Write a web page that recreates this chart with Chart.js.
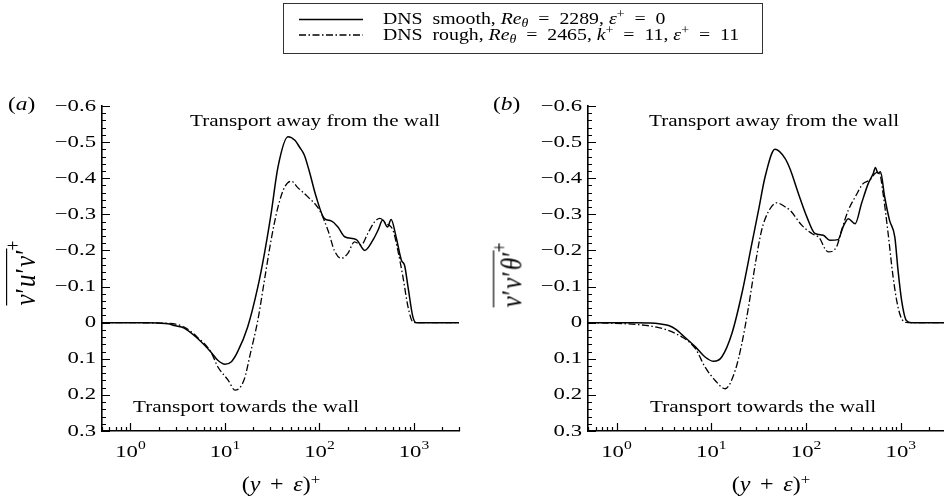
<!DOCTYPE html>
<html>
<head>
<meta charset="utf-8">
<script src="https://cdn.jsdelivr.net/npm/chart.js@4.4.0/dist/chart.umd.min.js"></script>
<style>
body { margin: 0; width: 944px; height: 502px; overflow: hidden; background: #fff; position: relative;
       font-family: "Liberation Serif", "DejaVu Serif", serif; color: #000; }
canvas { position: absolute; top: 0; }
.t { position: absolute; white-space: nowrap; line-height: 1; transform-origin: 0 0; transform: scaleX(1.2); }
.c { position: absolute; white-space: nowrap; line-height: 1; transform-origin: 50% 0; transform: translateX(-50%) scaleX(1.2); }
sup, sub { font-size: 70%; line-height: 0; position: relative; vertical-align: baseline; }
sup { top: -0.5em; }
sub { top: 0.3em; }
.eq { margin: 0 0.5em; }
.op { margin: 0 0.4em; }
.yt { position: absolute; white-space: nowrap; line-height: 1; font-size: 25px;
      transform: translate(-50%, -50%) rotate(-90deg) scale(1, 1.15); }
.ov { border-top: 1.3px solid #000; padding-top: 2px; letter-spacing: 1px; }
.yt sup { top: -0.75em; margin-left: -2px; }
#legend { position: absolute; left: 283px; top: 3px; width: 478px; height: 49px; border: 1px solid #333; }
</style>
</head>
<body>
<canvas id="chartA" width="470" height="502" style="left:0"></canvas>
<canvas id="chartB" width="472" height="502" style="left:486px"></canvas>

<div id="legend">
  <svg width="480" height="50" style="position:absolute;left:0;top:0">
    <line x1="15" y1="15.5" x2="79" y2="15.5" stroke="#000" stroke-width="1.4"/>
    <line x1="15" y1="31" x2="79" y2="31" stroke="#000" stroke-width="1.3" stroke-dasharray="7,2.5,1.5,2.5"/>
  </svg>
  <div class="t" style="left:99px;top:7px;font-size:16.5px">DNS&nbsp; smooth, <i>Re</i><sub><i>θ</i></sub><span class="eq">=</span>2289, <i>ε</i><sup>+</sup><span class="eq">=</span>0</div>
  <div class="t" style="left:99px;top:23px;font-size:16.5px">DNS&nbsp; rough, <i>Re</i><sub><i>θ</i></sub><span class="eq">=</span>2465, <i>k</i><sup>+</sup><span class="eq">=</span>11, <i>ε</i><sup>+</sup><span class="eq">=</span>11</div>
</div>

<div class="t" style="left:8px;top:94px;font-size:19.5px">(<i>a</i>)</div>
<div class="t" style="left:493px;top:94px;font-size:19.5px">(<i>b</i>)</div>

<div class="t" style="left:190px;top:112px;font-size:17.6px">Transport away from the wall</div>
<div class="t" style="left:133px;top:398px;font-size:17.6px">Transport towards the wall</div>
<div class="t" style="left:649px;top:112px;font-size:17.6px">Transport away from the wall</div>
<div class="t" style="left:650px;top:398px;font-size:17.6px">Transport towards the wall</div>

<div class="c" style="left:281px;top:474px;font-size:20px">(<i>y</i><span class="op">+</span><i>ε</i>)<sup>+</sup></div>
<div class="c" style="left:771px;top:474px;font-size:20px">(<i>y</i><span class="op">+</span><i>ε</i>)<sup>+</sup></div>

<div class="yt" style="left:25px;top:273px"><span class="ov"><i>v</i>′<i>u</i>′<i>v</i>′</span><sup>+</sup></div>
<div class="yt" style="left:512px;top:275px"><span class="ov"><i>v</i>′<i>v</i>′<i>θ</i>′</span><sup>+</sup></div>

<script>
// (a) Reynolds shear stress flux, smooth vs rough wall
var xSmoothA = [0.5, 1, 1.5, 2, 2.5, 2.9, 3.7, 5.1, 7.1, 8.4, 10, 11.7, 13.6, 17.4, 22.3, 26.2, 30.8, 36.4, 46.5, 55, 62, 69, 78, 92, 113, 133, 157, 185, 246, 302, 369, 417, 468, 525, 574, 647, 737, 796, 866, 975, 1060, 1200, 3000];
var ySmoothA = [0, 0, 0, 0.001, 0.003, 0.008, 0.015, 0.043, 0.081, 0.104, 0.115, 0.108, 0.081, 0.012, -0.099, -0.192, -0.302, -0.431, -0.515, -0.505, -0.485, -0.465, -0.42, -0.35, -0.288, -0.282, -0.265, -0.238, -0.23, -0.2, -0.229, -0.256, -0.284, -0.265, -0.286, -0.238, -0.173, -0.159, -0.099, -0.016, 0, 0, 0];
var xRoughA = [0.5, 1, 2, 2.5, 3, 3.7, 5.1, 7.1, 8.4, 10.8, 12.8, 15.9, 18.6, 22.3, 26.2, 30.8, 36.4, 42.9, 50.3, 59, 75, 100, 123, 144, 170, 200, 235, 276, 325, 383, 436, 507, 600, 676, 765, 866, 975, 1100, 3000];
var yRoughA = [0, 0, 0.001, 0.002, 0.004, 0.012, 0.04, 0.081, 0.122, 0.159, 0.187, 0.159, 0.085, -0.007, -0.118, -0.229, -0.32, -0.376, -0.392, -0.374, -0.349, -0.312, -0.256, -0.2, -0.178, -0.192, -0.224, -0.215, -0.247, -0.279, -0.289, -0.275, -0.256, -0.2, -0.127, -0.044, -0.002, 0, 0];

// (b) turbulent heat flux, smooth vs rough wall
var xSmoothB = [0.5, 1, 1.6, 2.2, 2.8, 3.55, 4.2, 4.9, 6.8, 8.6, 10.6, 12.9, 16.5, 21, 26.8, 31.5, 37, 47, 60, 68, 83, 102, 124, 152, 178, 218, 246, 279, 330, 385, 453, 512, 540, 575, 610, 676, 760, 865, 935, 1020, 1145, 1300, 3000];
var ySmoothB = [0, 0, 0, 0.001, 0.003, 0.008, 0.018, 0.033, 0.067, 0.095, 0.107, 0.095, 0.03, -0.08, -0.219, -0.311, -0.404, -0.48, -0.455, -0.425, -0.358, -0.293, -0.247, -0.242, -0.228, -0.23, -0.265, -0.288, -0.274, -0.33, -0.385, -0.413, -0.43, -0.413, -0.418, -0.348, -0.284, -0.237, -0.145, -0.062, -0.006, 0, 0];
var xRoughB = [0.5, 0.8, 1.6, 2.6, 4.2, 6.8, 8.6, 11, 14, 17.9, 21, 24.7, 29, 34, 40, 49, 60, 68, 90, 115, 140, 158, 172, 210, 237, 279, 330, 400, 470, 534, 590, 650, 735, 830, 935, 1050, 1200, 3000];
var yRoughB = [0, 0.001, 0.005, 0.012, 0.03, 0.072, 0.123, 0.16, 0.183, 0.132, 0.058, -0.043, -0.159, -0.256, -0.307, -0.332, -0.321, -0.311, -0.27, -0.247, -0.233, -0.205, -0.196, -0.21, -0.256, -0.311, -0.348, -0.385, -0.395, -0.413, -0.418, -0.358, -0.247, -0.126, -0.043, -0.006, 0, 0];

// axis ticks
var yTickValues = [-0.6, -0.5, -0.4, -0.3, -0.2, -0.1, 0, 0.1, 0.2, 0.3];
var yTickLabels = ['\u22120.6', '\u22120.5', '\u22120.4', '\u22120.3', '\u22120.2', '\u22120.1', '0', '0.1', '0.2', '0.3'];
var xDecades = [1, 10, 100, 1000];
var xExponents = ['0', '1', '2', '3'];

var FONT = '"Liberation Serif", serif';

function pts(xs, ys) {
    var out = [];
    for (var i = 0; i < xs.length; i++) out.push({ x: xs[i], y: ys[i] });
    return out;
}

// inward ticks and tick labels, drawn from the scales
var axisDecor = {
    id: 'axisDecor',
    afterDraw: function (chart) {
        var ctx = chart.ctx, xs = chart.scales.x, ys = chart.scales.y, a = chart.chartArea;
        ctx.save();
        ctx.strokeStyle = '#000';
        ctx.lineWidth = 1.2;
        ctx.beginPath();
        for (var i = 0; i <= 45; i++) {
            var py = Math.round(ys.getPixelForValue(-0.6 + i * 0.02)) + 0.5;
            var len = (i % 5 === 0) ? 8 : 4;
            ctx.moveTo(a.left, py);
            ctx.lineTo(a.left + len, py);
        }
        for (var e = -1; e <= 3; e++) {
            for (var m = 1; m <= 9; m++) {
                var v = m * Math.pow(10, e);
                if (v < 0.5 || v > 3000) continue;
                var px = Math.round(xs.getPixelForValue(v)) + 0.5;
                var l = (m === 1) ? 8 : 4;
                ctx.moveTo(px, a.bottom);
                ctx.lineTo(px, a.bottom - l);
            }
        }
        ctx.stroke();

        ctx.fillStyle = '#000';
        ctx.font = '17.5px ' + FONT;
        ctx.textAlign = 'right';
        ctx.textBaseline = 'middle';
        for (var k = 0; k < yTickValues.length; k++) {
            ctx.save();
            ctx.translate(a.left - 6, ys.getPixelForValue(yTickValues[k]));
            ctx.scale(1.3, 1);
            ctx.fillText(yTickLabels[k], 0, 0);
            ctx.restore();
        }

        ctx.textAlign = 'left';
        ctx.textBaseline = 'alphabetic';
        for (var d = 0; d < xDecades.length; d++) {
            ctx.font = '17.5px ' + FONT;
            var wb = ctx.measureText('10').width;
            ctx.font = '12px ' + FONT;
            var we = ctx.measureText(xExponents[d]).width;
            var cx = xs.getPixelForValue(xDecades[d]);
            ctx.save();
            ctx.translate(cx - (wb + we) * 1.3 / 2, a.bottom + 26);
            ctx.scale(1.3, 1);
            ctx.font = '17.5px ' + FONT;
            ctx.fillText('10', 0, 0);
            ctx.font = '12px ' + FONT;
            ctx.fillText(xExponents[d], wb, -8);
            ctx.restore();
        }
        ctx.restore();
    }
};

function makePanel(id, padRight, xs1, ys1, xs2, ys2) {
    return new Chart(document.getElementById(id), {
        type: 'line',
        data: {
            datasets: [
                {
                    label: 'DNS smooth',
                    data: pts(xs1, ys1),
                    borderColor: '#000',
                    borderWidth: 1.5,
                    pointRadius: 0,
                    cubicInterpolationMode: 'monotone',
                    fill: false
                },
                {
                    label: 'DNS rough',
                    data: pts(xs2, ys2),
                    borderColor: '#000',
                    borderWidth: 1.3,
                    borderDash: [7, 2.5, 1.5, 2.5],
                    pointRadius: 0,
                    cubicInterpolationMode: 'monotone',
                    fill: false
                }
            ]
        },
        options: {
            responsive: false,
            animation: false,
            layout: { padding: { left: 0, top: 106, right: padRight, bottom: 0 } },
            plugins: { legend: { display: false }, tooltip: { enabled: false } },
            scales: {
                x: {
                    type: 'logarithmic',
                    min: 0.5,
                    max: 3000,
                    ticks: { display: false },
                    grid: { display: false, drawTicks: false },
                    border: { display: true, color: '#000', width: 1.6 },
                    afterFit: function (s) { s.height = 71; }
                },
                y: {
                    type: 'linear',
                    reverse: true,
                    min: -0.6,
                    max: 0.3,
                    ticks: { display: false },
                    grid: { display: false, drawTicks: false },
                    border: { display: true, color: '#000', width: 1.6 },
                    afterFit: function (s) { s.width = 102; }
                }
            }
        },
        plugins: [axisDecor]
    });
}

makePanel('chartA', 11, xSmoothA, ySmoothA, xRoughA, yRoughA);
makePanel('chartB', 12, xSmoothB, ySmoothB, xRoughB, yRoughB);
</script>
</body>
</html>
